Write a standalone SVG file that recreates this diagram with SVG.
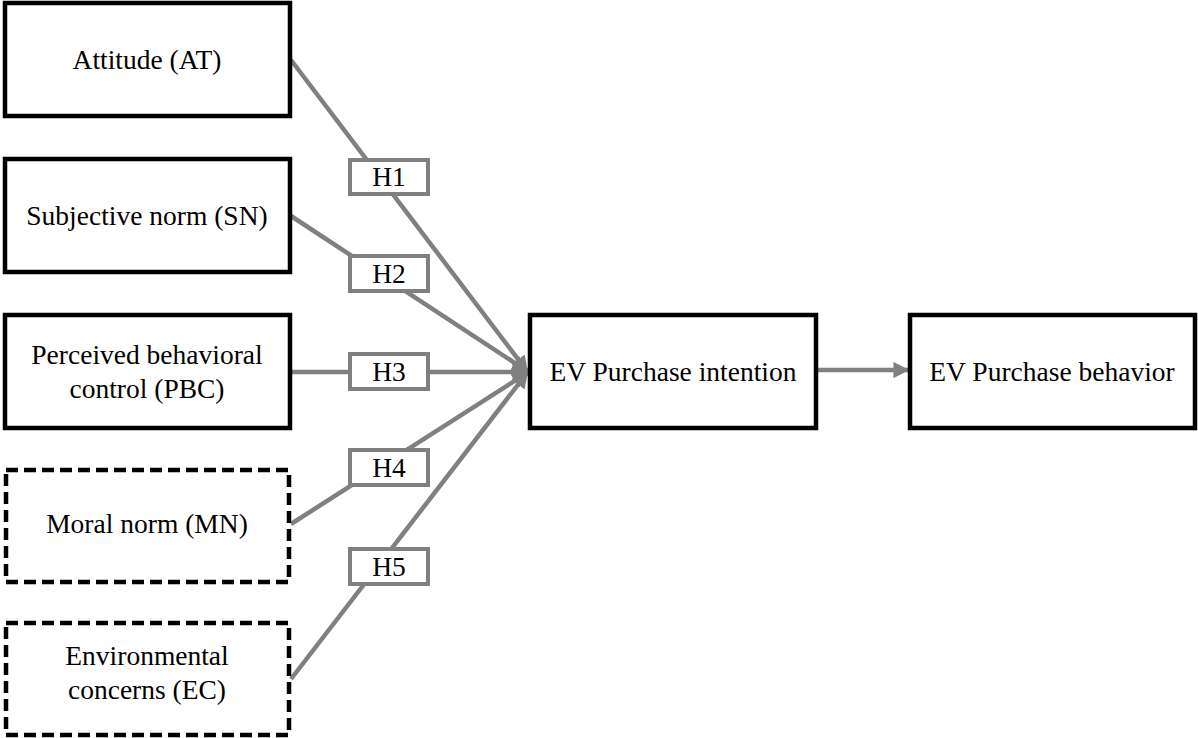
<svg xmlns="http://www.w3.org/2000/svg" width="1198" height="738" viewBox="0 0 1198 738">
<style>
.box{fill:#fff;stroke:#000;stroke-width:4.5}
.dash{fill:#fff;stroke:#000;stroke-width:4.5;stroke-dasharray:12 6}
.lbl{fill:#fff;stroke:#808080;stroke-width:4}
.t{font-family:'Liberation Serif','Times New Roman',serif;font-size:27.5px;fill:#000;text-anchor:middle}
.c{fill:none;stroke:#808080;stroke-width:4.5}
</style>
<defs>
<marker id="ah" viewBox="0 0 10 10" refX="9" refY="5" markerWidth="3.6" markerHeight="3.6" orient="auto" markerUnits="strokeWidth">
<path d="M0,0 L10,5 L0,10 z" fill="#808080"/>
</marker>
</defs>
<g id="connectors">
<path class="c" d="M291,60 L527,371" marker-end="url(#ah)"/>
<path class="c" d="M291,216 L527,371" marker-end="url(#ah)"/>
<path class="c" d="M291,372 L527,372" marker-end="url(#ah)"/>
<path class="c" d="M291,524 L527,373" marker-end="url(#ah)"/>
<path class="c" d="M291,679 L527,373" marker-end="url(#ah)"/>
<path class="c" d="M816,370 L908,370" marker-end="url(#ah)"/>
</g>
<g id="node-at"><rect class="box" x="5" y="3" width="285" height="113"/><text class="t" x="147" y="69">Attitude (AT)</text></g>
<g id="node-sn"><rect class="box" x="5" y="159" width="285" height="113"/><text class="t" x="147" y="225">Subjective norm (SN)</text></g>
<g id="node-pbc"><rect class="box" x="5" y="315" width="285" height="113"/><text class="t" x="147" y="364">Perceived behavioral</text><text class="t" x="147" y="398">control (PBC)</text></g>
<g id="node-mn"><rect class="dash" x="6" y="470" width="283" height="112"/><text class="t" x="147" y="533">Moral norm (MN)</text></g>
<g id="node-ec"><rect class="dash" x="6" y="623" width="283" height="112"/><text class="t" x="147" y="665">Environmental</text><text class="t" x="147" y="699">concerns (EC)</text></g>
<g id="node-pi"><rect class="box" x="530" y="315" width="286" height="113"/><text class="t" x="673" y="381">EV Purchase intention</text></g>
<g id="node-pb"><rect class="box" x="910" y="315" width="285" height="113"/><text class="t" x="1052" y="381">EV Purchase behavior</text></g>
<g id="label-h1"><rect class="lbl" x="350" y="160" width="78" height="34"/><text class="t" x="389" y="186">H1</text></g>
<g id="label-h2"><rect class="lbl" x="350" y="256" width="78" height="35"/><text class="t" x="389" y="283">H2</text></g>
<g id="label-h3"><rect class="lbl" x="350" y="354" width="78" height="35"/><text class="t" x="389" y="381">H3</text></g>
<g id="label-h4"><rect class="lbl" x="350" y="450" width="78" height="35"/><text class="t" x="389" y="477">H4</text></g>
<g id="label-h5"><rect class="lbl" x="350" y="549" width="78" height="35"/><text class="t" x="389" y="576">H5</text></g>
</svg>
